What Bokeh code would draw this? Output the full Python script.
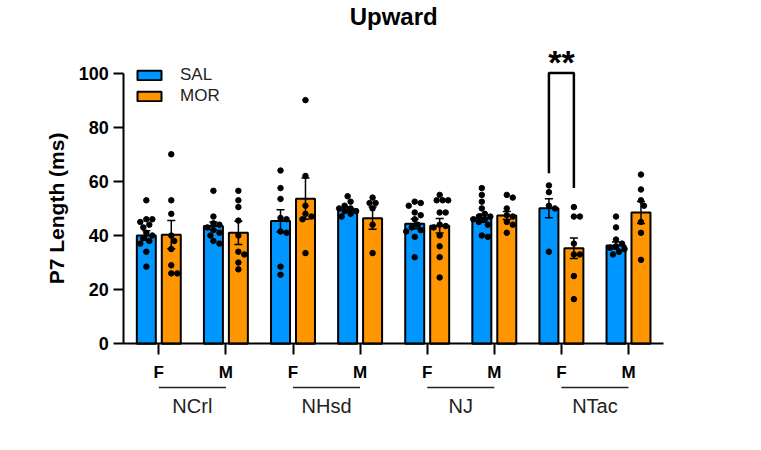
import math
from bokeh.plotting import figure
from bokeh.models import Range1d, FixedTicker, Legend, LegendItem, LinearAxis
from bokeh.core.properties import value
from bokeh.embed import file_html
from bokeh.resources import INLINE

# ---------------- data ----------------
strains = ["NCrl", "NHsd", "NJ", "NTac"]
sexes = ["F", "M"]
treatments = ["SAL", "MOR"]

# group order: NCrl F, NCrl M, NHsd F, NHsd M, NJ F, NJ M, NTac F, NTac M
sal_mean = [40.0, 43.5, 45.4, 49.7, 44.3, 46.4, 50.1, 36.3]
sal_sem = [1.8, 1.5, 4.1, 0.9, 1.8, 1.5, 3.5, 1.3]
mor_mean = [40.3, 41.0, 53.6, 46.4, 43.6, 47.4, 35.3, 48.5]
mor_sem = [5.2, 4.3, 7.6, 4.1, 2.7, 1.5, 3.8, 4.1]

sal_points = [
    [53, 46, 46, 45, 44, 43, 41, 40, 39, 38, 37, 34, 28.5],
    [56.5, 47, 44.5, 44, 43, 42, 41, 40, 38, 37],
    [64, 57.5, 53.5, 46.5, 46, 41.5, 41, 28.5, 25.5],
    [54.5, 52.5, 51, 50, 50, 49, 49, 48, 47],
    [52.5, 52, 51, 48.5, 47.5, 46, 44, 43, 42, 41.5, 39.5, 32],
    [57.5, 55, 52.5, 50, 48, 47, 47, 46, 46, 45, 44, 40, 39.5],
    [58.5, 56, 51, 50, 34],
    [47, 43, 38.5, 37, 36, 35.5, 35, 34, 33],
]
mor_points = [
    [70, 53, 48, 40, 38, 35, 29, 26, 26],
    [56.5, 53, 50.5, 45.5, 40, 34, 33, 30, 27.5],
    [90, 62, 51, 48, 47, 46, 33.5],
    [54, 52, 52, 50, 44, 33.5],
    [55, 53, 53, 53, 48.5, 48.5, 44, 43.5, 43, 40, 36, 32, 24.5],
    [55, 54, 50, 47.5, 47, 45, 44, 41],
    [50.5, 47, 47, 37, 33, 33, 25, 16.5],
    [62.5, 57, 53, 51, 45, 41, 31],
]

y_ticks = [0, 20, 40, 60, 80, 100]
y_bounds = (0, 100)
y_label = "P7 Length (ms)"
title = "Upward"

# significance: group index, label, bracket top, left leg bottom, right leg bottom
sig_group = [6]
sig_text = ["**"]
sig_top = [100]
sig_left_bottom = [63]
sig_right_bottom = [57.5]

# ---------------- layout (pixel geometry of the canvas) ----------------
W, H = 745, 434
PX_X = 67.1          # px per group step
PX_Y = 2.7075        # px per ms
G0_PX = 158.3        # canvas x of first group tick
Y0_PX = 343.3        # canvas y of value 0
AX_L_PX, AX_R_PX = 123.3, 663.0   # extent of the x axis line


def dx_of(px):
    return (px - G0_PX) / PX_X


def dy_of(py):
    return (Y0_PX - py) / PX_Y


X0, X1 = dx_of(0), dx_of(W)
Y1, Y0 = dy_of(0), dy_of(H)
AXL, AXR = dx_of(AX_L_PX), dx_of(AX_R_PX)

OFF = 0.186
BW = 0.283
SAL_C = "#0096FF"
MOR_C = "#FF9500"
FONT = "Liberation Sans"

p = figure(width=W, height=H, x_range=Range1d(X0, X1), y_range=Range1d(Y0, Y1),
           output_backend="svg", toolbar_location=None, title=None,
           x_axis_location=None, y_axis_location=None, min_border=0)
p.outline_line_color = None
p.xgrid.visible = False
p.ygrid.visible = False

yaxis = LinearAxis(bounds=y_bounds, ticker=FixedTicker(ticks=y_ticks, minor_ticks=[]),
                   fixed_location=AXL)
yaxis.axis_line_width = 2
yaxis.axis_line_color = "black"
yaxis.major_tick_line_width = 2
yaxis.major_tick_out = 10
yaxis.major_tick_in = 0
yaxis.minor_tick_line_color = None
yaxis.major_label_text_font = FONT
yaxis.major_label_text_font_size = "18px"
yaxis.major_label_text_font_style = "bold"
yaxis.major_label_text_color = "black"
yaxis.major_label_standoff = 5
p.add_layout(yaxis, "left")

n_groups = len(strains) * len(sexes)
xaxis = LinearAxis(ticker=FixedTicker(ticks=list(range(n_groups)), minor_ticks=[]),
                   major_label_overrides={i: sexes[i % 2] for i in range(n_groups)},
                   fixed_location=0, bounds=(AXL, AXR))
xaxis.axis_line_width = 2
xaxis.axis_line_color = "black"
xaxis.major_tick_line_width = 2
xaxis.major_tick_out = 11
xaxis.major_tick_in = 0
xaxis.minor_tick_line_color = None
xaxis.major_label_text_font = FONT
xaxis.major_label_text_font_size = "17px"
xaxis.major_label_text_font_style = "bold"
xaxis.major_label_text_color = "black"
xaxis.major_label_standoff = 8
p.add_layout(xaxis, "below")

# title and y-axis title
p.text(x=[(AXL + AXR) / 2], y=[dy_of(16)], text=[title], text_align="center",
       text_baseline="middle", text_font=value(FONT), text_font_size="24px",
       text_font_style="bold", text_color="black")
p.text(x=[dx_of(56)], y=[sum(y_bounds) / 2], text=[y_label], angle=math.pi / 2,
       text_align="center", text_baseline="middle", text_font=value(FONT),
       text_font_size="21px", text_font_style="bold", text_color="black")

gx = list(range(n_groups))
sal_x = [g - OFF for g in gx]
mor_x = [g + OFF for g in gx]

r_sal = p.vbar(x=sal_x, top=sal_mean, bottom=0, width=BW, fill_color=SAL_C,
               line_color="black", line_width=2)
r_mor = p.vbar(x=mor_x, top=mor_mean, bottom=0, width=BW, fill_color=MOR_C,
               line_color="black", line_width=2)


def errbars(xs, m, s):
    p.segment(x0=xs, x1=xs, y0=[a - b for a, b in zip(m, s)], y1=[a + b for a, b in zip(m, s)],
              line_color="black", line_width=1.5)
    cap = 0.06
    for sign in (1, -1):
        yy = [a + sign * b for a, b in zip(m, s)]
        p.segment(x0=[x - cap for x in xs], x1=[x + cap for x in xs], y0=yy, y1=yy,
                  line_color="black", line_width=1.5)


errbars(sal_x, sal_mean, sal_sem)
errbars(mor_x, mor_mean, mor_sem)


def swarm(vals, center, dia=6.0, steps=(0, 3, -3, 6, -6, 8.5, -8.5)):
    placed = []
    xs, ys = [], []
    for v in sorted(vals, reverse=True):
        yp = v * PX_Y
        chosen = None
        best, best_d = 0, -1
        for off in steps:
            d = min([((off - a) ** 2 + (yp - b) ** 2) ** 0.5 for a, b in placed] or [99])
            if d >= dia:
                chosen = off
                break
            if d > best_d:
                best, best_d = off, d
        if chosen is None:
            chosen = best
        placed.append((chosen, yp))
        xs.append(center + chosen / PX_X)
        ys.append(v)
    return xs, ys


dxs, dys = [], []
for xs_c, pts in ((sal_x, sal_points), (mor_x, mor_points)):
    for c, vals in zip(xs_c, pts):
        a, b = swarm(vals, c)
        dxs += a
        dys += b
p.scatter(x=dxs, y=dys, size=5.5, color="black")

# group underline and names
ns = len(strains)
p.segment(x0=[2 * i for i in range(ns)], x1=[2 * i + 1 for i in range(ns)],
          y0=[dy_of(387)] * ns, y1=[dy_of(387)] * ns, line_color="#222222", line_width=1.5)
p.text(x=[2 * i + 0.5 for i in range(ns)], y=[dy_of(405)] * ns, text=strains,
       text_align="center", text_baseline="middle", text_font=value(FONT),
       text_font_size="20px", text_color="#222222")

# significance bracket
for g, t, top, lb, rb in zip(sig_group, sig_text, sig_top, sig_left_bottom, sig_right_bottom):
    p.line(x=[g - OFF, g - OFF, g + OFF, g + OFF], y=[lb, top, top, rb],
           line_color="black", line_width=2.5)
    p.text(x=[g], y=[top + 4], text=[t], text_align="center", text_baseline="middle",
           text_font=value(FONT), text_font_size="34px", text_font_style="bold", text_color="black")

legend = Legend(items=[LegendItem(label=treatments[0], renderers=[r_sal]),
                       LegendItem(label=treatments[1], renderers=[r_mor])],
                location=(134, 328), glyph_width=30, glyph_height=12, label_height=21,
                spacing=0, padding=0, margin=0, label_standoff=16,
                label_text_font=FONT, label_text_font_size="17px", label_text_color="#222222",
                border_line_color=None, background_fill_alpha=0)
p.add_layout(legend)

open("out.html", "w").write(file_html(p, INLINE))
